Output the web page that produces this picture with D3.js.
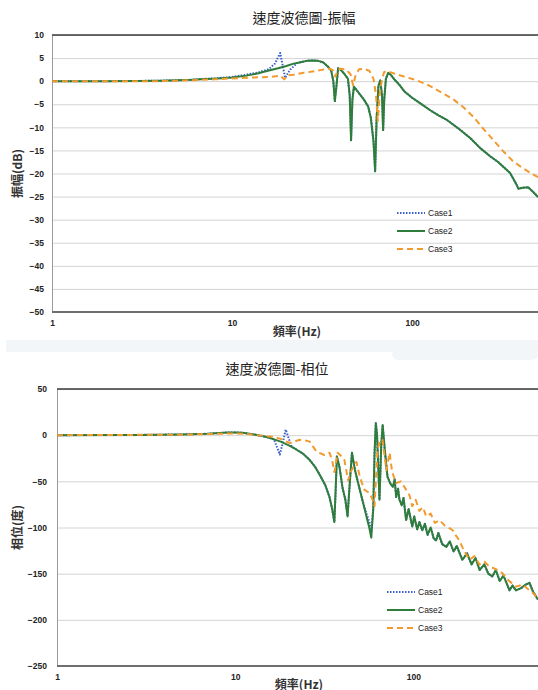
<!DOCTYPE html>
<html lang="zh-Hant">
<head>
<meta charset="utf-8">
<title>速度波德圖</title>
<script src="https://cdn.jsdelivr.net/npm/d3@7"></script>
<style>
    body { margin: 0; background: #fff; }
    svg { display: block; }
    .tick text { font-family: "Liberation Sans", Arial, sans-serif; font-weight: bold; font-size: 8.5px; fill: #222; }
    .grid line { stroke: #d4d4d4; stroke-width: 1; }
    .grid path { display: none; }
    .title { font-family: "Noto Sans CJK TC", sans-serif; font-size: 14px; fill: #222; }
    .axis-title { font-family: "Noto Sans CJK TC", sans-serif; font-size: 12px; font-weight: bold; fill: #333; }
    .legend text { font-family: "Liberation Sans", Arial, sans-serif; font-size: 8.5px; fill: #222; }
</style>
</head>
<body>
<div id="chart"></div>
<script>
// frequency ticks
const freqTicks = [1, 10, 100];
const magTicks = [10, 5, 0, -5, -10, -15, -20, -25, -30, -35, -40, -45, -50];
const phaseTicks = [50, 0, -50, -100, -150, -200, -250];
const seriesNames = ['Case1', 'Case2', 'Case3'];

// magnitude (dB) : [Hz, value]
const magCase1 = [[1,0],[2,0],[3,0.05],[4,0.1],[5,0.2],[6,0.3],[7,0.5],[8,0.6],[10,0.9],[12,1.4],[14,1.9],[16,2.6],[17.3,3.8],[18.5,6.1],[19.2,3],[19.7,0.7],[21,2.5],[23,3.9],[24,4.1],[26,4.4],[28,4.5],[30,4.4],[32,4.1],[34,3.2],[35.5,2.3],[36.5,0],[37.2,-4.3],[38,-1],[38.8,2.8],[40,2.5],[42,1.6],[44,0.5],[45,-3],[45.8,-12.8],[46.6,-4],[47.5,-1.2],[50,-2.3],[54,-4],[57,-5.5],[59,-8],[61,-13],[62.3,-19.5],[63.5,-8],[65,-1],[66.5,0.2],[68,-3],[69,-10.6],[70,-4],[71.5,0.5],[73.6,1.8],[76,1.4],[80,0.3],[85,-0.8],[91,-2.3],[100,-3.6],[111,-4.8],[126,-6.3],[140,-7.4],[156,-8.4],[180,-10.2],[210,-12.3],[239,-14.5],[270,-16.2],[300,-17.5],[350,-19.9],[375,-22],[390,-23.3],[410,-23.1],[441,-23],[470,-24],[500,-25.1]];
const magCase2 = [[1,0],[2,0],[3,0.05],[4,0.1],[5,0.2],[6,0.3],[7,0.45],[8,0.55],[10,0.8],[12,1.2],[14,1.7],[16,2.3],[18,2.8],[20,3.3],[22,3.8],[24,4.1],[26,4.4],[28,4.5],[30,4.4],[32,4.1],[34,3.2],[35.5,2.3],[36.5,0],[37.2,-4.3],[38,-1],[38.8,2.8],[40,2.5],[42,1.6],[44,0.5],[45,-3],[45.8,-12.8],[46.6,-4],[47.5,-1.2],[50,-2.3],[54,-4],[57,-5.5],[59,-8],[61,-13],[62.3,-19.5],[63.5,-8],[65,-1],[66.5,0.2],[68,-3],[69,-10.6],[70,-4],[71.5,0.5],[73.6,1.8],[76,1.4],[80,0.3],[85,-0.8],[91,-2.3],[100,-3.6],[111,-4.8],[126,-6.3],[140,-7.4],[156,-8.4],[180,-10.2],[210,-12.3],[239,-14.5],[270,-16.2],[300,-17.5],[350,-19.9],[375,-22],[390,-23.3],[410,-23.1],[441,-23],[470,-24],[500,-25.1]];
const magCase3 = [[1,0],[4,0],[6,0.2],[8,0.4],[10,0.6],[13,0.8],[16,0.9],[18.5,1.2],[19.5,0.4],[20.5,1.3],[22,1.4],[25,1.8],[28,2.1],[32,2.5],[35,2.7],[36.5,2.3],[37.5,1.0],[38.5,2.4],[40,2.7],[43,2.5],[45.5,1.5],[47,-0.9],[48.5,1.2],[50.7,2.6],[54,2.7],[58,2.2],[61,0.5],[63,-3],[64.5,-8.6],[66,-3],[68,0.5],[70,2],[72.5,2.2],[80,1.6],[90,1],[106,0.2],[125,-1],[148,-2.6],[170,-4],[192,-5.6],[220,-7.8],[247,-10.2],[280,-12.6],[317,-15],[360,-17.2],[413,-18.9],[460,-20],[500,-20.8]];

// phase (deg) : [Hz, value]
const phaseCase1 = [[1,0],[3,0.3],[5,0.8],[7,1.5],[9,2.8],[10,3],[11,2.5],[13,0.5],[15,-2],[16.5,-4.5],[17.8,-21],[18.5,-8],[19.2,6],[20,-4],[20.7,-12],[22,-15.5],[24,-20],[26.2,-27],[28,-34],[30,-44],[32,-54],[33.8,-67],[35,-80],[36,-94],[36.6,-60],[37.2,-23],[38.5,-35],[40,-57],[41.5,-70],[42.7,-88],[44,-50],[45.2,-19],[47,-38],[49.7,-57],[52,-72],[54.5,-85],[56.8,-95],[58,-104],[59.5,-80],[60.5,-20],[61.5,13],[62.5,0],[64.5,-70],[66,-10],[67.2,11],[69,-15],[71.5,-45],[74,-52],[76.7,-56],[78.5,-48],[80,-67],[82,-58],[83.5,-70],[86,-76],[88,-68],[91,-92],[94,-80],[98.5,-99],[101,-88],[105,-102],[108,-94],[112,-103],[116,-96],[120,-108],[125,-100],[130,-112],[134,-114],[138,-106],[145,-118],[153,-121],[160,-115],[168,-126],[175,-120],[188,-135],[200,-128],[212,-140],[223,-133],[235,-146],[250,-140],[263,-150],[277,-153],[290,-146],[305,-158],[320,-152],[346,-168],[360,-163],[376,-168],[400,-166],[425,-162],[448,-160],[470,-170],[500,-178]];
const phaseCase2 = [[1,0],[3,0.3],[5,0.8],[7,1.5],[9,2.8],[10,3],[11,2.5],[13,0.5],[15,-2],[16.5,-4.5],[18,-7],[20,-11],[22,-15.5],[24,-20],[26.2,-27],[28,-34],[30,-44],[32,-54],[33.8,-67],[35,-80],[36,-94],[36.6,-60],[37.2,-23],[38.5,-35],[40,-57],[41.5,-70],[42.7,-88],[44,-50],[45.2,-19],[47,-38],[49.7,-57],[52,-72],[54.5,-88],[56.5,-100],[58,-111],[59.5,-80],[60.5,-20],[61.5,13],[62.5,0],[64.5,-70],[66,-10],[67.2,11],[69,-15],[71.5,-45],[74,-52],[76.7,-56],[78.5,-48],[80,-67],[82,-58],[83.5,-70],[86,-76],[88,-68],[91,-92],[94,-80],[98.5,-99],[101,-88],[105,-102],[108,-94],[112,-103],[116,-96],[120,-108],[125,-100],[130,-112],[134,-114],[138,-106],[145,-118],[153,-121],[160,-115],[168,-126],[175,-120],[188,-135],[200,-128],[212,-140],[223,-133],[235,-146],[250,-140],[263,-150],[277,-153],[290,-146],[305,-158],[320,-152],[346,-168],[360,-163],[376,-168],[400,-166],[425,-162],[448,-160],[470,-170],[500,-178]];
const phaseCase3 = [[1,0],[5,0.5],[8,1.5],[10,2],[12,1],[14,-0.5],[16.2,-1.6],[18,-4],[20.2,-8.5],[21.5,-7],[23,-5],[24.5,-5.5],[26.2,-7],[28.6,-18],[31.7,-21.5],[33.8,-19],[35,-27],[36,-40],[37.6,-19],[39,-22],[41,-27],[43,-49],[44.5,-40],[46.5,-32],[47.9,-29],[50,-45],[53,-59],[57,-63],[59,-70],[60.5,-77],[61.5,-50],[62.9,-16],[65,-5],[67,-5],[70.6,-38],[73.5,-19],[76,-40],[80,-52],[85,-50],[91,-59],[95,-65],[98.5,-77],[103,-70],[108,-82],[113,-78],[118,-88],[125,-85],[132,-95],[140,-92],[150,-98],[160,-101],[166,-103],[172,-108],[181,-114],[192,-125],[206,-135],[220,-131],[235,-140],[250,-137],[266,-142],[290,-145],[314,-149],[340,-157],[376,-164],[410,-162],[448,-168],[475,-172],[500,-178]];

const styles = {
    Case1: {color: '#3a5fc8', width: 2, dash: '1.5,1.5'},
    Case2: {color: '#2e7d3a', width: 2, dash: null},
    Case3: {color: '#f39a2e', width: 2, dash: '6,4'}
};

const svg = d3.select('#chart').append('svg')
    .attr('width', 538)
    .attr('height', 690);

// faint band between the two charts
svg.append('rect').attr('x', 6).attr('y', 340).attr('width', 532).attr('height', 12).attr('fill', '#f3f6f9');
svg.append('rect').attr('x', 392).attr('y', 350).attr('width', 146).attr('height', 10).attr('rx', 6).attr('fill', '#f3f6f9');

function drawChart(cfg) {
    const {left, right, top, bottom} = cfg;
    const x = d3.scaleLog().domain([1, 500]).range([left, right]);
    const y = d3.scaleLinear().domain(cfg.yDomain).range([bottom, top]);
    const g = svg.append('g');

    // grid lines
    g.append('g')
        .attr('class', 'grid')
        .attr('transform', `translate(${left},0)`)
        .call(d3.axisLeft(y).tickValues(cfg.yTicks).tickSize(-(right - left)).tickFormat(''));

    // y axis labels
    const yAxis = g.append('g')
        .attr('transform', `translate(${left},0)`)
        .call(d3.axisLeft(y).tickValues(cfg.yTicks).tickSize(0).tickPadding(cfg.yPad));
    yAxis.select('.domain').attr('stroke', '#9a9a9a');

    // x axis labels
    const xAxis = g.append('g')
        .attr('transform', `translate(0,${bottom})`)
        .call(d3.axisBottom(x).tickValues(freqTicks).tickFormat(d3.format('d')).tickSize(0).tickPadding(8));
    xAxis.select('.domain').remove();

    // top and bottom frame lines
    g.append('line').attr('x1', left).attr('x2', right).attr('y1', y(cfg.yDomain[1])).attr('y2', y(cfg.yDomain[1]))
        .attr('stroke', '#3a3a3a').attr('stroke-width', 1.5);
    g.append('line').attr('x1', left).attr('x2', right).attr('y1', y(cfg.yDomain[0])).attr('y2', y(cfg.yDomain[0]))
        .attr('stroke', '#6e6e6e').attr('stroke-width', 2);

    // series
    const line = d3.line().x(d => x(d[0])).y(d => y(d[1]));
    cfg.series.forEach((data, i) => {
        const s = styles[seriesNames[i]];
        g.append('path')
            .attr('d', line(data))
            .attr('fill', 'none')
            .attr('stroke', s.color)
            .attr('stroke-width', s.width)
            .attr('stroke-dasharray', s.dash)
            .attr('stroke-linejoin', 'round');
    });

    // titles
    g.append('text').attr('class', 'title').attr('text-anchor', 'middle')
        .attr('x', cfg.titleX).attr('y', cfg.titleY).text(cfg.title);
    g.append('text').attr('class', 'axis-title').attr('text-anchor', 'middle')
        .attr('transform', `translate(22,${(top + bottom) / 2}) rotate(-90)`).text(cfg.yTitle);
    g.append('text').attr('class', 'axis-title').attr('text-anchor', 'middle')
        .attr('x', cfg.xTitleX).attr('y', cfg.xTitleY).text('頻率(Hz)');

    // legend
    const legend = g.append('g').attr('class', 'legend');
    seriesNames.forEach((name, i) => {
        const s = styles[name];
        const ly = cfg.legendY + i * 18;
        legend.append('line')
            .attr('x1', cfg.legendX).attr('x2', cfg.legendX + 28)
            .attr('y1', ly).attr('y2', ly)
            .attr('stroke', s.color).attr('stroke-width', s.width)
            .attr('stroke-dasharray', s.dash);
        legend.append('text').attr('x', cfg.legendX + 31).attr('y', ly + 3).text(name);
    });
}

drawChart({
    left: 52, right: 538, top: 35, bottom: 312,
    yDomain: [-50, 10], yTicks: magTicks, yPad: 8,
    series: [magCase1, magCase2, magCase3],
    title: '速度波德圖-振幅', titleX: 304, titleY: 23,
    yTitle: '振幅(dB)', xTitleX: 297, xTitleY: 336,
    legendX: 397, legendY: 213
});

drawChart({
    left: 57, right: 538, top: 389, bottom: 666,
    yDomain: [-250, 50], yTicks: phaseTicks, yPad: 10,
    series: [phaseCase1, phaseCase2, phaseCase3],
    title: '速度波德圖-相位', titleX: 277, titleY: 374,
    yTitle: '相位(度)', xTitleX: 299, xTitleY: 689,
    legendX: 387, legendY: 592
});
</script>
</body>
</html>
